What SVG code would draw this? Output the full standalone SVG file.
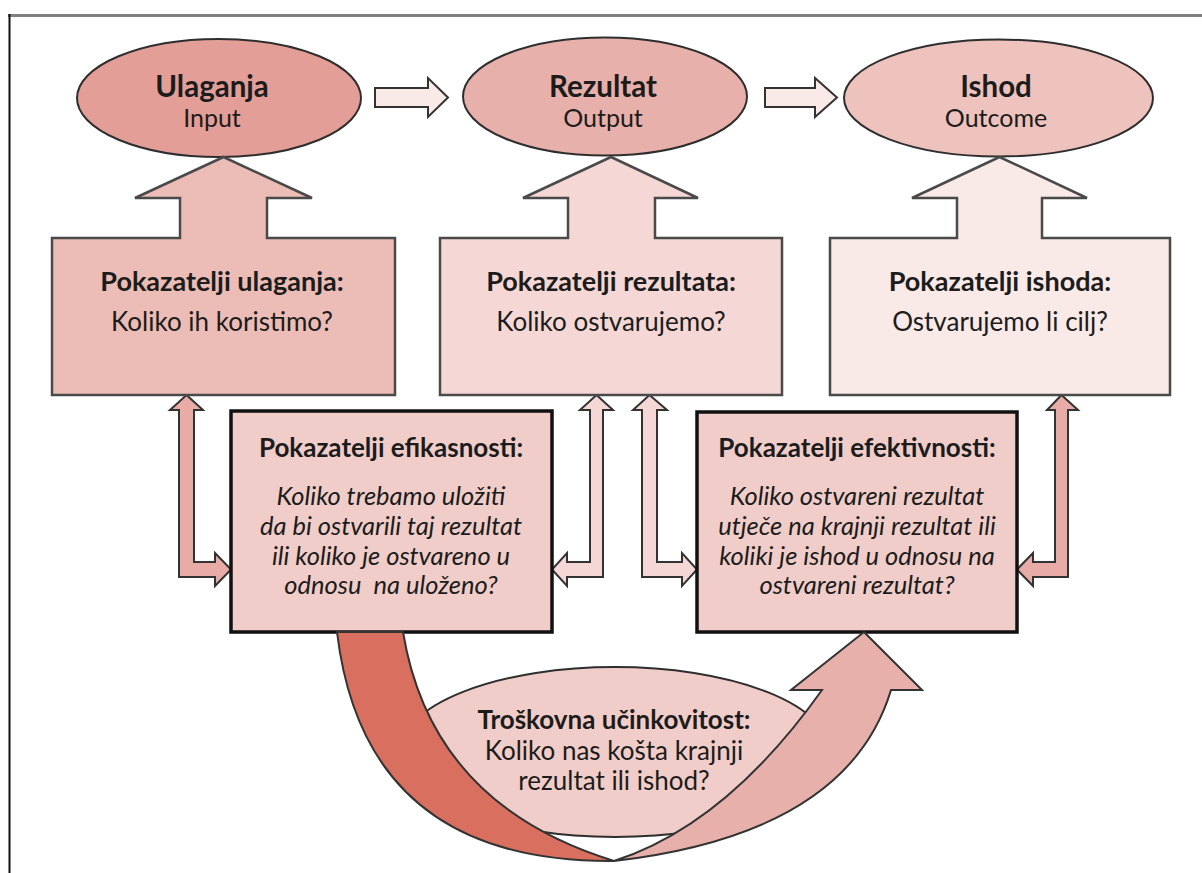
<svg xmlns="http://www.w3.org/2000/svg" width="1202" height="873" viewBox="0 0 1202 873">
<style>
  text { font-family: Lato, "Open Sans", "Liberation Sans", sans-serif; fill: #1c1c1c; text-anchor: middle; }
  .et { font-size: 29.5px; font-weight: bold; }
  .es { font-size: 25px; }
  .bt { font-size: 27px; font-weight: bold; }
  .bq { font-size: 26px; }
  .kt { font-size: 26px; font-weight: bold; }
  .ki { font-size: 25.5px; font-style: italic; }
  .ell { stroke: #2e2e2e; stroke-width: 2; }
  .box { stroke: #4a4a4a; stroke-width: 2.5; stroke-linejoin: miter; }
  .kbox { stroke: #111; stroke-width: 3.5; fill: #f1cdc9; }
  .arr { stroke: #333; stroke-width: 2; stroke-linejoin: miter; }
</style>
<rect width="1202" height="873" fill="#ffffff"/>
<g id="frame">
  <line x1="8" y1="15.5" x2="1202" y2="15.5" stroke="#808080" stroke-width="3"/>
  <line x1="9.5" y1="14" x2="9.5" y2="873" stroke="#111" stroke-width="2"/>
</g>

<g id="connectors">
  <path class="arr" fill="#f9e9e7" d="M375,88 H428 V78 L448,97.5 L428,117 V107 H375 Z"/>
  <path class="arr" fill="#f9e9e7" d="M765,88 H815 V78 L837,97.5 L815,117 V107 H765 Z"/>
  <path class="arr" fill="#e8aba6" d="M186.5,395 L203,410 H194 V562 H215 V553 L231,569.5 L215,586 V577 H179 V410 H170 Z"/>
  <path class="arr" fill="#f5d8d5" d="M596.5,395 L613,410 H603 V577 H567 V586 L552,569.5 L567,553 V562 H590 V410 H580 Z"/>
  <path class="arr" fill="#f5d8d5" d="M649.5,395 L667,410 H657 V562 H682 V553 L697,569.5 L682,586 V577 H642 V410 H633 Z"/>
  <path class="arr" fill="#e8aba6" d="M1061.5,395 L1078,410 H1068 V577 H1033 V586 L1017,569.5 L1033,553 V562 H1055 V410 H1047 Z"/>
</g>

<g id="node-ulaganja">
  <ellipse class="ell" cx="219" cy="98" rx="142" ry="59" fill="#e39e97"/>
  <text class="et" x="212" y="97">Ulaganja</text>
  <text class="es" x="212" y="127">Input</text>
</g>
<g id="node-rezultat">
  <ellipse class="ell" cx="605" cy="96.5" rx="142" ry="59" fill="#e8b0aa"/>
  <text class="et" x="603" y="97">Rezultat</text>
  <text class="es" x="603" y="127">Output</text>
</g>
<g id="node-ishod">
  <ellipse class="ell" cx="998.5" cy="98" rx="154.5" ry="58.5" fill="#eec2bd"/>
  <text class="et" x="996" y="97">Ishod</text>
  <text class="es" x="996" y="127">Outcome</text>
</g>

<g id="node-pokazatelji-ulaganja">
  <path class="box" fill="#ecbcb6" d="M52,238 H180 V198 H135 L223.5,157 L312,198 H267 V238 H395 V395 H52 Z"/>
  <text class="bt" x="222" y="291">Pokazatelji ulaganja:</text>
  <text class="bq" x="222" y="331">Koliko ih koristimo?</text>
</g>
<g id="node-pokazatelji-rezultata">
  <path class="box" fill="#f5d8d5" d="M440,238 H568 V198 H523 L611,157 L698,198 H655 V238 H782 V395 H440 Z"/>
  <text class="bt" x="611" y="291">Pokazatelji rezultata:</text>
  <text class="bq" x="611" y="331">Koliko ostvarujemo?</text>
</g>
<g id="node-pokazatelji-ishoda">
  <path class="box" fill="#f9e9e7" d="M830,238 H957 V198 H912 L999.5,157 L1087,198 H1042 V238 H1170 V395 H830 Z"/>
  <text class="bt" x="1000" y="291">Pokazatelji ishoda:</text>
  <text class="bq" x="1000" y="331">Ostvarujemo li cilj?</text>
</g>

<g id="node-efikasnost">
  <rect class="kbox" x="231" y="411" width="321" height="221"/>
  <text class="kt" x="391" y="457">Pokazatelji efikasnosti:</text>
  <text class="ki" x="391" y="505">Koliko trebamo uložiti</text>
  <text class="ki" x="391" y="535">da bi ostvarili taj rezultat</text>
  <text class="ki" x="391" y="565">ili koliko je ostvareno u</text>
  <text class="ki" x="391" y="594" xml:space="preserve">odnosu  na uloženo?</text>
</g>
<g id="node-efektivnost">
  <rect class="kbox" x="697" y="412" width="320" height="220"/>
  <text class="kt" x="857" y="457">Pokazatelji efektivnosti:</text>
  <text class="ki" x="857" y="505">Koliko ostvareni rezultat</text>
  <text class="ki" x="857" y="535">utječe na krajnji rezultat ili</text>
  <text class="ki" x="857" y="565">koliki je ishod u odnosu na</text>
  <text class="ki" x="857" y="594">ostvareni rezultat?</text>
</g>

<g id="node-troskovna">
  <ellipse class="ell" cx="615" cy="752" rx="215" ry="85" fill="#f1cdc9"/>
  <g id="cycle-arrows">
    <path class="arr" fill="#e8b0aa" d="M864,632 L922,690 H891 Q847.5,834 614,861 Q726,825 822,690 H791 Z"/>
    <path class="arr" fill="#d9705f" d="M337,632 H403 Q431.5,805 614,861 Q364.5,863 337,632 Z"/>
  </g>
  <text class="kt" x="614" y="729">Troškovna učinkovitost:</text>
  <text class="bq" x="614" y="760">Koliko nas košta krajnji</text>
  <text class="bq" x="614" y="790">rezultat ili ishod?</text>
</g>
</svg>
